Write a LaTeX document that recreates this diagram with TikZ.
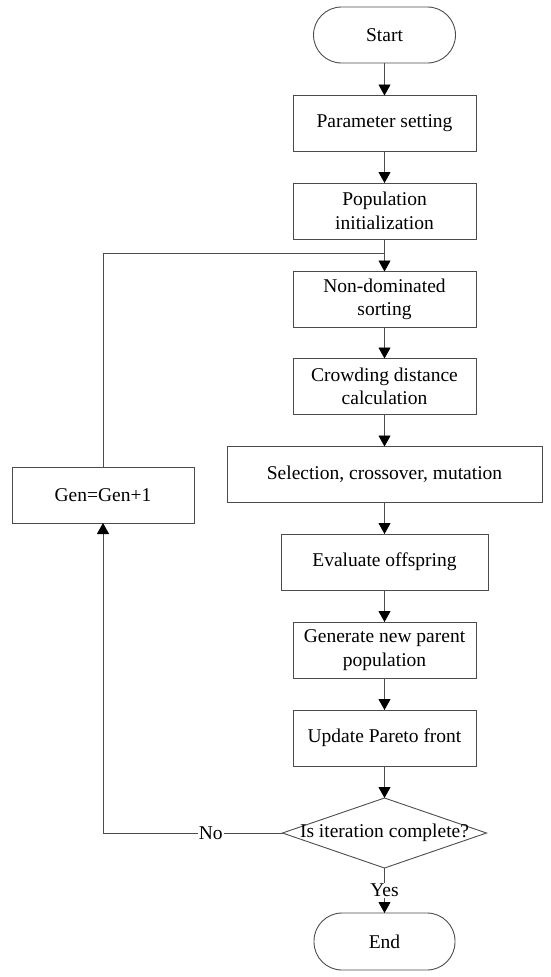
\documentclass[tikz,border=0pt]{standalone}
\usepackage{fontspec}
\setmainfont{Liberation Serif}
\usetikzlibrary{shapes.geometric,arrows.meta}
\begin{document}
\begin{tikzpicture}[x=1pt,y=-1pt,
  font=\fontsize{19.5}{23.5}\selectfont,
  every node/.style={inner sep=0pt, outer sep=0pt},
  ln/.style={draw=black!70, line width=0.9pt},
  arr/.style={ln, -{Triangle[length=11pt,width=12pt,fill=black,color=black]}},
  box/.style={ln, rectangle, minimum width=183pt, minimum height=56pt, align=center},
  term/.style={ln, rectangle, rounded corners=28pt, minimum width=142pt, minimum height=56pt},
  lbl/.style={fill=white, inner sep=1pt}
]
\useasboundingbox (0,0) rectangle (550,977);
\node[term] (start) at (384.5,35) {Start};
\node[box] (param) at (384.5,123.5) {Parameter setting};
\node[box] (pop) at (384.5,211) {Population\\initialization};
\node[box] (nondom) at (384.5,299.5) {Non-dominated\\sorting};
\node[box] (crowd) at (384.5,386.5) {Crowding distance\\calculation};
\node[box, minimum width=315pt] (sel) at (384.5,474.5) {Selection, crossover, mutation};
\node[box, minimum width=207pt] (eval) at (384.5,562) {Evaluate offspring};
\node[box] (newpar) at (384.5,650) {Generate new parent\\population};
\node[box] (update) at (384.5,738) {Update Pareto front};
\node[ln, diamond, minimum width=204pt, minimum height=70pt] (dec) at (384.5,833) {};
\node (dectext) at (dec.center) {Is iteration complete?};
\node[term, minimum width=141pt, minimum height=57pt] (end) at (384.5,941.5) {End};
\node[box, minimum width=182pt] (gen) at (103,495) {Gen=Gen+1};
\coordinate (join) at (384.5,253);
\coordinate (tl) at (103,253);
\coordinate (bl) at (103,833);

\draw[arr] (start) -- (param);
\draw[arr] (param) -- (pop);
\draw[arr] (pop) -- (nondom);
\draw[arr] (nondom) -- (crowd);
\draw[arr] (crowd) -- (sel);
\draw[arr] (sel) -- (eval);
\draw[arr] (eval) -- (newpar);
\draw[arr] (newpar) -- (update);
\draw[arr] (update) -- (dec.north);
\draw[arr] (dec.south) -- node[lbl, pos=0.5] (yes) {Yes} (end);
\draw[arr] (dec.west) -- node[lbl, pos=0.4] (no) {No} (bl) -- (gen.south);
\draw[ln] (gen.north) -- (tl) -- (join);
\end{tikzpicture}
\end{document}
